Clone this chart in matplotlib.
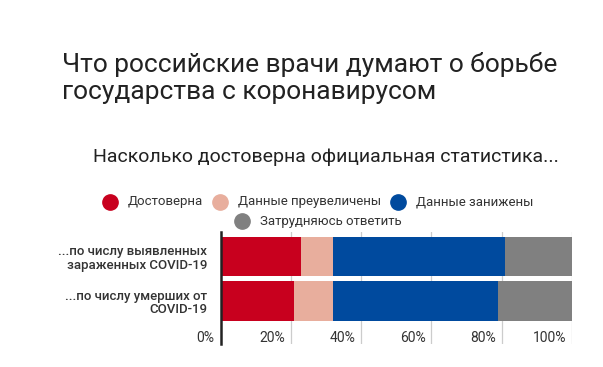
import matplotlib
matplotlib.use("Agg")
import matplotlib.pyplot as plt
from matplotlib.lines import Line2D
from matplotlib.transforms import offset_copy

plt.rcParams['font.family'] = ['Roboto', 'DejaVu Sans']

categories = ["...по числу выявленных\nзараженных COVID-19",
              "...по числу умерших от\nCOVID-19"]
series_names = ["Достоверна", "Данные преувеличены", "Данные занижены", "Затрудняюсь ответить"]
reliable = [23, 21]
overstated = [9, 11]
understated = [49, 47]
unsure = [19, 21]
tick_values = [0, 20, 40, 60, 80, 100]
tick_labels = ["0%", "20%", "40%", "60%", "80%", "100%"]
title = "Что российские врачи думают о борьбе\nгосударства с коронавирусом"
subtitle = "Насколько достоверна официальная статистика..."

colors = ["#C8001E", "#E8AE9D", "#004A9E", "#808080"]
series = [reliable, overstated, understated, unsure]

W, H = 603, 367
fig = plt.figure(figsize=(W / 100, H / 100), dpi=100)

def fx(px):
    return px / W

def fy(py):
    return 1 - py / H

ax = fig.add_axes([fx(220.5), fy(344), fx(572) - fx(220.5), fy(232) - fy(344)])

ypos = list(range(len(categories)))
left = [0] * len(categories)
for vals, col in zip(series, colors):
    ax.barh(ypos, vals, left=left, height=0.89, color=col, zorder=2)
    left = [l + v for l, v in zip(left, vals)]

ax.set_xlim(0, 100)
ax.set_ylim(1.966, -0.551)

for v in tick_values[1:]:
    ax.axvline(v, color="#cccccc", lw=0.9, zorder=1)

ax.set_xticks([])
ax.set_yticks(ypos)
ax.set_yticklabels(categories, fontsize=9.5, fontweight=500, color="#333333",
                   linespacing=1.05)
for lab in ax.get_yticklabels():
    lab.set_multialignment("right")
ax.tick_params(axis="y", length=0, pad=9.5)

for s in ["top", "right", "bottom"]:
    ax.spines[s].set_visible(False)
ax.spines["left"].set_color("#222222")
ax.spines["left"].set_linewidth(1.8)
ax.spines["left"].set_zorder(3)

trans = offset_copy(ax.transData, fig=fig, x=-6, y=0, units="dots")
for v, lab in zip(tick_values, tick_labels):
    ax.text(v, 1.831, lab, transform=trans, ha="right", va="center",
            fontsize=10, color="#333333")

fig.text(fx(62), fy(78), title, fontsize=19, color="#222222", ha="left",
         va="center", linespacing=1.12)
fig.text(fx(93), fy(157), subtitle, fontsize=14, color="#222222", ha="left", va="center")

legend_items = [
    (110, 202, 128),
    (220, 202, 238),
    (398, 202, 416),
    (241.5, 221, 260),
]
for (cx, cy, tx), name, col in zip(legend_items, series_names, colors):
    fig.add_artist(Line2D([fx(cx)], [fy(cy)], marker="o", markersize=11,
                          color=col, transform=fig.transFigure))
    fig.text(fx(tx), fy(cy), name, fontsize=9.5, color="#333333",
             ha="left", va="center")

fig.savefig("out.png", dpi=100)
